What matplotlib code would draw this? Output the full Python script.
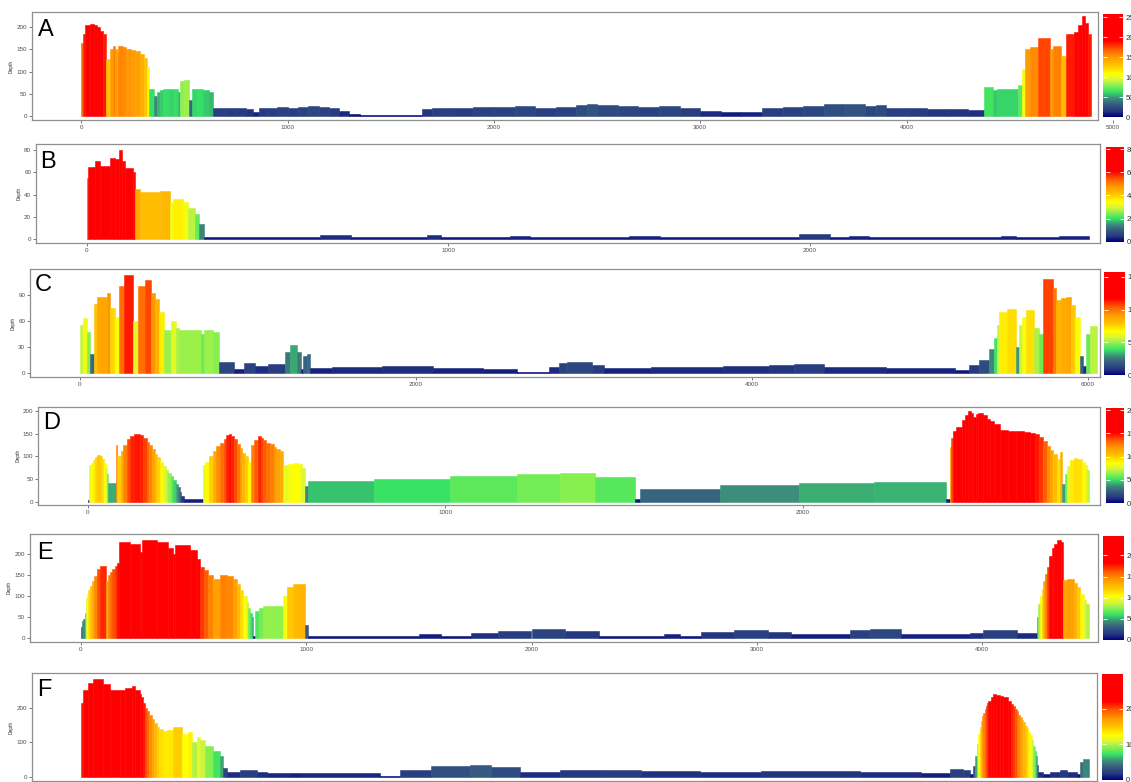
import numpy as np
import matplotlib
matplotlib.use("Agg")
import matplotlib.pyplot as plt
from matplotlib.colors import LinearSegmentedColormap, Normalize
import matplotlib.colorbar as mcb

plt.rcParams['font.family'] = ['Liberation Sans', 'DejaVu Sans']

# ---------------- data (segment starts, depth per segment, end) ----------------
a_pos = [0, 10, 17, 40, 60, 75, 90, 105, 120, 140,
         155, 165, 175, 180, 200, 215, 225, 240, 260, 285,
         305, 320, 330, 350, 365, 380, 395, 420, 450, 470,
         480, 500, 520, 535, 560, 590, 620, 640, 700, 750,
         800, 830, 860, 900, 950, 1000, 1050, 1100, 1150, 1200,
         1250, 1300, 1350, 1650, 1700, 1800, 1900, 2000, 2100, 2200,
         2300, 2400, 2450, 2500, 2600, 2700, 2800, 2900, 3000, 3100,
         3200, 3300, 3400, 3500, 3600, 3700, 3800, 3850, 3900, 4000,
         4100, 4200, 4300, 4374, 4419, 4440, 4540, 4560, 4576, 4600,
         4637, 4660, 4694, 4710, 4750, 4774, 4810, 4831, 4850, 4865,
         4880]
a_depth = [165, 185, 205, 207, 205, 200, 192, 185, 128, 150,
           158, 150, 145, 157, 155, 150, 152, 148, 147, 140,
           130, 110, 62, 45, 55, 58, 62, 60, 62, 55,
           80, 82, 35, 60, 62, 58, 55, 18, 17, 17,
           15, 10, 17, 18, 20, 18, 20, 22, 20, 18,
           12, 5, 2, 15, 18, 17, 20, 20, 22, 18,
           20, 25, 28, 24, 22, 20, 22, 18, 12, 8,
           10, 18, 20, 22, 26, 28, 22, 25, 18, 17,
           15, 15, 14, 65, 58, 60, 70, 105, 150, 155,
           175, 175, 150, 158, 135, 185, 190, 205, 225, 210,
           185]
a_end = 4893

b_pos = [0, 4, 23, 37, 64, 78, 90, 99, 106, 129,
         134, 147, 203, 230, 240, 267, 281, 299, 311, 324,
         645, 730, 940, 980, 1170, 1225, 1500, 1585, 1970, 2055,
         2110, 2165, 2530, 2570, 2690]
b_depth = [55, 65, 70, 66, 73, 72, 80, 70, 64, 60,
           45, 42, 43, 33, 36, 33, 28, 23, 14, 2,
           4, 2, 4, 2, 3, 2, 3, 2, 5, 2,
           3, 2, 3, 2, 3]
b_end = 2773

c_pos = [0, 16, 44, 60, 84, 100, 160, 180, 210, 230,
         264, 316, 344, 384, 420, 445, 470, 500, 540, 570,
         590, 660, 720, 740, 790, 829, 919, 979, 1039, 1119,
         1222, 1250, 1290, 1318, 1330, 1350, 1370, 1500, 1800, 2100,
         2400, 2600, 2790, 2850, 2900, 3050, 3120, 3400, 3830, 4100,
         4250, 4430, 4800, 5211, 5291, 5350, 5411, 5441, 5461, 5471,
         5520, 5570, 5590, 5610, 5630, 5680, 5710, 5734, 5790, 5810,
         5840, 5870, 5900, 5925, 5950, 5970, 5990, 6010]
c_depth = [55, 63, 48, 22, 80, 88, 92, 75, 65, 100,
           113, 60, 100, 107, 92, 85, 70, 50, 60, 52,
           50, 50, 45, 50, 48, 13, 5, 12, 8, 11,
           25, 32, 25, 5, 20, 22, 6, 7, 8, 6,
           5, 1, 7, 12, 13, 10, 6, 7, 8, 9,
           11, 7, 6, 4, 10, 15, 28, 40, 55, 70,
           74, 30, 55, 65, 73, 52, 45, 108, 98, 84,
           87, 88, 78, 65, 20, 8, 45, 54]
c_end = 6054

d_pos = [0, 3, 8, 14, 20, 27, 35, 41, 46, 50,
         54, 58, 79, 83, 92, 100, 110, 118, 130, 146,
         155, 165, 172, 180, 187, 193, 202, 211, 218, 225,
         232, 239, 246, 252, 257, 262, 268, 323, 328, 340,
         351, 360, 370, 380, 388, 395, 402, 410, 418, 426,
         433, 440, 449, 458, 466, 477, 484, 491, 500, 510,
         520, 528, 537, 545, 560, 575, 590, 600, 608, 617,
         800, 1013, 1200, 1320, 1420, 1530, 1545, 1770, 1990, 2200,
         2400, 2412, 2416, 2421, 2430, 2445, 2455, 2463, 2470, 2477,
         2485, 2491, 2505, 2515, 2524, 2535, 2552, 2575, 2598, 2620,
         2636, 2650, 2660, 2673, 2683, 2692, 2700, 2710, 2720, 2725,
         2734, 2740, 2748, 2758, 2766, 2780, 2790, 2796]
d_depth = [3, 80, 86, 92, 98, 102, 100, 94, 86, 75,
           60, 42, 125, 100, 112, 125, 138, 145, 148, 146,
           140, 132, 124, 116, 106, 98, 88, 78, 70, 64,
           56, 48, 40, 32, 22, 12, 7, 80, 88, 100,
           112, 122, 130, 138, 146, 150, 145, 138, 128, 118,
           108, 100, 88, 125, 135, 145, 140, 135, 130, 126,
           120, 115, 112, 80, 84, 86, 82, 75, 35, 45,
           50, 56, 60, 63, 55, 5, 28, 37, 42, 43,
           6, 120, 140, 155, 165, 180, 190, 200, 195, 186,
           192, 195, 190, 183, 178, 170, 157, 155, 155, 153,
           152, 148, 142, 133, 122, 114, 105, 95, 110, 40,
           60, 78, 92, 96, 94, 88, 80, 70]
d_end = 2802

e_pos = [0, 6, 12, 18, 24, 29, 34, 42, 50, 60,
         71, 86, 112, 123, 132, 140, 150, 160, 168, 219,
         263, 271, 337, 389, 411, 418, 485, 515, 529, 548,
         566, 589, 618, 650, 677, 692, 707, 722, 736, 743,
         750, 758, 766, 773, 790, 810, 850, 899, 914, 940,
         970, 996, 1010, 1500, 1600, 1730, 1850, 2000, 2150, 2300,
         2590, 2660, 2750, 2900, 3050, 3150, 3415, 3500, 3640, 3946,
         4005, 4153, 4242, 4249, 4256, 4264, 4271, 4279, 4286, 4297,
         4308, 4319, 4330, 4350, 4360, 4375, 4390, 4405, 4419, 4434,
         4449, 4462]
e_depth = [25, 40, 45, 60, 95, 105, 115, 125, 135, 148,
           165, 173, 135, 150, 158, 165, 172, 180, 230, 225,
           205, 235, 230, 215, 200, 222, 210, 190, 170, 162,
           150, 140, 150, 148, 140, 128, 115, 100, 85, 72,
           60, 50, 5, 65, 72, 77, 76, 100, 122, 128,
           130, 30, 5, 8, 5, 12, 17, 20, 15, 5,
           9, 5, 14, 18, 14, 8, 18, 21, 9, 12,
           18, 11, 50, 80, 100, 118, 135, 152, 170, 195,
           215, 225, 235, 230, 138, 142, 140, 132, 122, 105,
           90, 82]
e_end = 4475

f_pos = [0, 10, 35, 60, 110, 143, 193, 218, 252, 268,
         293, 300, 310, 318, 327, 340, 352, 365, 377, 390,
         410, 430, 460, 502, 535, 552, 577, 593, 618, 660,
         693, 710, 727, 793, 877, 927, 977, 1043, 1093, 1493,
         1593, 1750, 1943, 2050, 2193, 2393, 2600, 2800, 3093, 3400,
         3893, 4200, 4343, 4410, 4443, 4460, 4468, 4477, 4485, 4492,
         4498, 4504, 4510, 4517, 4523, 4529, 4535, 4547, 4560, 4575,
         4593, 4610, 4635, 4648, 4660, 4668, 4677, 4685, 4693, 4702,
         4710, 4718, 4727, 4735, 4743, 4752, 4760, 4767, 4773, 4779,
         4785, 4810, 4843, 4893, 4927, 4977, 4993, 5010]
f_depth = [215, 250, 272, 283, 268, 250, 252, 258, 263, 250,
           240, 230, 215, 200, 190, 178, 168, 155, 145, 138,
           133, 135, 145, 125, 130, 100, 115, 105, 90, 75,
           60, 25, 15, 20, 15, 12, 12, 10, 12, 3,
           20, 30, 35, 28, 15, 18, 20, 16, 14, 17,
           14, 10, 22, 20, 8, 30, 60, 95, 125, 145,
           160, 175, 185, 195, 205, 213, 220, 232, 240, 238,
           235, 230, 220, 212, 205, 197, 190, 180, 172, 165,
           158, 148, 140, 130, 120, 105, 90, 75, 60, 35,
           15, 8, 14, 18, 14, 8, 42, 52]
f_end = 5040

letters = ['A', 'B', 'C', 'D', 'E', 'F']
x_ticks = [[0, 1000, 2000, 3000, 4000, 5000], [0, 1000, 2000], [0, 2000, 4000, 6000],
           [0, 1000, 2000], [0, 1000, 2000, 3000, 4000], [0, 1000, 2000, 3000, 4000, 5000]]
y_ticks = [[0, 50, 100, 150, 200], [0, 20, 40, 60, 80], [0, 30, 60, 90],
           [0, 50, 100, 150, 200], [0, 50, 100, 150, 200], [0, 100, 200]]
c_max = [258, 82, 158, 205, 246, 298]
c_ticks = [[0, 50, 100, 150, 200, 250], [0, 20, 40, 60, 80], [0, 50, 100, 150],
           [0, 50, 100, 150, 200], [0, 50, 100, 150, 200], [0, 100, 200]]

series = [(a_pos, a_depth, a_end), (b_pos, b_depth, b_end), (c_pos, c_depth, c_end),
          (d_pos, d_depth, d_end), (e_pos, e_depth, e_end), (f_pos, f_depth, f_end)]

# ---------------- layout (pixels) ----------------
W, H = 1131, 782
geom = [
    dict(L=32, T=12, B=120, RF=1098, O=81.3, s=0.2063, ylim=(-9, 234.5),
         cb=(1103, 14, 1123, 117), let=(38, 19)),
    dict(L=36, T=144.3, B=243.3, RF=1100, O=86.7, s=0.3615, ylim=(-3.6, 85.2),
         cb=(1106, 146.7, 1124, 241.7), let=(40, 151)),
    dict(L=30, T=269.3, B=377.3, RF=1100, O=80.0, s=0.1680, ylim=(-4.6, 119.5),
         cb=(1104, 271.7, 1125, 375), let=(35, 274)),
    dict(L=38.3, T=406.7, B=505, RF=1100, O=87.7, s=0.3575, ylim=(-7.3, 209),
         cb=(1106, 408, 1124, 503), let=(43, 412)),
    dict(L=30, T=534, B=641.7, RF=1098, O=80.7, s=0.2254, ylim=(-9.6, 249),
         cb=(1103, 536, 1124, 640), let=(37, 542)),
    dict(L=31.7, T=673.3, B=781, RF=1097, O=81.3, s=0.2000, ylim=(-12.5, 299.7),
         cb=(1102, 674, 1123, 780), let=(37, 679)),
]

cmap = LinearSegmentedColormap.from_list("depth", [
    (0.00, "#00007a"), (0.06, "#263a80"), (0.12, "#365a80"), (0.18, "#3c8c7a"),
    (0.24, "#35e066"), (0.30, "#80f050"), (0.36, "#d6f53c"), (0.42, "#ffff00"),
    (0.50, "#ffc400"), (0.58, "#ff9a00"), (0.66, "#ff5a00"), (0.74, "#ff0000"),
    (1.00, "#ff0000")])

fig = plt.figure(figsize=(W / 100, H / 100), dpi=100)
fig.patch.set_facecolor("white")

frame_col = "#8f8f8f"
for i, g in enumerate(geom):
    pos, depth, end = series[i]
    ax = fig.add_axes([g['L'] / W, 1 - g['B'] / H, (W - g['L']) / W, (g['B'] - g['T']) / H])
    x0 = (g['L'] - g['O']) / g['s']
    x1 = (W - g['O']) / g['s']
    xf = (g['RF'] - g['O']) / g['s']
    ax.set_xlim(x0, x1)
    ax.set_ylim(*g['ylim'])
    norm = Normalize(0, c_max[i])
    x = np.asarray(pos, float)
    ends = np.append(x[1:], end)
    d = np.asarray(depth, float)
    cols = cmap(norm(d))
    ax.bar(x, d, width=ends - x, align='edge', color=cols, edgecolor=cols,
           linewidth=0.4, zorder=2)
    for sp in ax.spines.values():
        sp.set_color(frame_col)
        sp.set_linewidth(0.9)
    ax.spines['top'].set_bounds(x0, xf)
    ax.spines['bottom'].set_bounds(x0, xf)
    ax.spines['right'].set_position(('data', xf))
    ax.set_xticks(x_ticks[i])
    ax.set_xticklabels([str(t) for t in x_ticks[i]])
    ax.set_yticks(y_ticks[i])
    ax.tick_params(axis='both', labelsize=4.5, length=2, width=0.5, color="#444444",
                   labelcolor="#4d4d4d", pad=1.5)
    ax.tick_params(right=False, top=False)
    ax.set_ylabel("Depth", fontsize=3.5, color="#333333", labelpad=2)
    ax.set_facecolor("white")
    fig.text(g['let'][0] / W, 1 - g['let'][1] / H, letters[i], fontsize=17,
             ha='left', va='top', color="black")

    cx0, cy0, cx1, cy1 = g['cb']
    cax = fig.add_axes([cx0 / W, 1 - cy1 / H, (cx1 - cx0) / W, (cy1 - cy0) / H])
    cb = mcb.ColorbarBase(cax, cmap=cmap, norm=norm, orientation='vertical')
    cb.outline.set_visible(False)
    cb.set_ticks(c_ticks[i])
    cax.tick_params(axis='y', direction='in', color='white', length=3, width=0.6,
                    left=True, right=True, labelsize=5.5, labelcolor="#333333", pad=2)

fig.savefig("out.png", dpi=100, facecolor="white")
